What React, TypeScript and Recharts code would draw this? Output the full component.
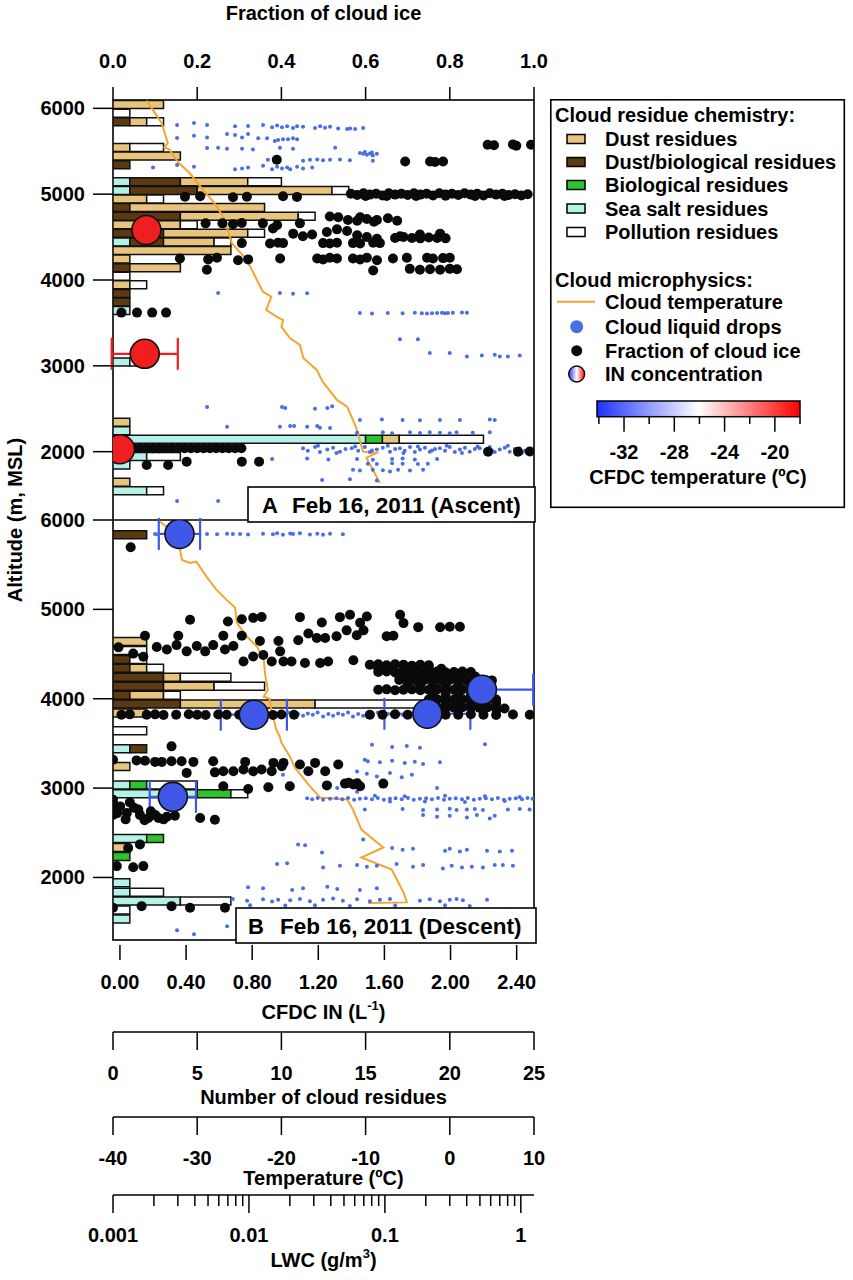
import React from 'react';
import { ComposedChart, Bar, Line, Scatter, XAxis, YAxis, ErrorBar, Legend } from 'recharts';

const FONT = '"Liberation Sans", Arial, Helvetica, sans-serif';
const txt = { fontFamily: FONT, fontWeight: 700, fontSize: 20, fill: '#000' } as any;

// ---------- axis ticks / domains ----------
const fracTicks = [0, 0.2, 0.4, 0.6, 0.8, 1.0];
const altTicks = [2000, 3000, 4000, 5000, 6000];
const cfdcTicks = [0, 0.4, 0.8, 1.2, 1.6, 2.0, 2.4];
const residueTicks = [0, 5, 10, 15, 20, 25];
const tempTicks = [-40, -30, -20, -10, 0, 10];
const lwcTicks = [0.001, 0.002, 0.003, 0.004, 0.005, 0.006, 0.007, 0.008, 0.009, 0.01, 0.02, 0.03, 0.04, 0.05, 0.06, 0.07, 0.08, 0.09, 0.1, 0.2, 0.3, 0.4, 0.5, 0.6, 0.7, 0.8, 0.9, 1];
const lwcMajor = [0.001, 0.01, 0.1, 1];
const cbarMinor = [-34, -30, -26, -22, -18];
const cbarMajor = [-32, -28, -24, -20];

const fracDomain = [0, 1];
const residueDomain = [0, 25];
const tempDomain = [-40, 10];
const lwcDomain = [0.001, 1.25];
const cfdcDomain = [-0.042, 2.505];
const altDomainA = [1204, 6097];
const altDomainB = [1300, 6000];

// ---------- cloud residue bars (counts per 100 m bin) ----------
const altBinsA = [6040, 5940, 5840, 5540, 5440, 5340, 5140, 5040, 4940, 4840, 4740, 4640, 4540, 4440, 4340, 4240, 4140, 4040, 3940, 3840, 3740, 3640, 3040, 2340, 2240, 2140, 1940, 1840, 1640, 1540];
const seaSaltA = [0, 0, 0, 0, 0, 0, 1, 1, 0, 0, 0, 0, 0, 1, 0, 0, 0, 0, 0, 0, 0, 1, 1, 0, 1, 15, 2, 1, 0, 2];
const dustBioA = [0, 0, 1, 0, 0, 1, 3, 4, 0, 1, 4, 0, 3, 2, 0, 0, 1, 0, 0, 1, 1, 0, 0, 0, 0, 0, 0, 0, 0, 0];
const bioA = [0, 0, 0, 0, 0, 0, 0, 0, 0, 0, 0, 0, 0, 0, 0, 0, 0, 0, 0, 0, 0, 0, 0, 0, 0, 1, 0, 0, 0, 0];
const dustA = [3, 0, 1, 1, 4, 0, 4, 8, 2, 8, 7, 4, 5, 3, 7, 1, 3, 0, 1, 0, 0, 0, 0, 1, 0, 1, 0, 0, 1, 0];
const pollutionA = [0, 1, 1, 2, 0, 0, 2, 1, 1, 0, 1, 1, 1, 1, 0, 0, 0, 1, 1, 0, 0, 0, 1, 0, 0, 5, 2, 0, 0, 1];

const altBinsB = [5830, 4635, 4535, 4435, 4335, 4235, 4135, 4035, 3935, 3835, 3635, 3435, 3235, 3030, 2930, 2430, 2330, 2230, 1935, 1830, 1730, 1630, 1530];
const seaSaltB = [0, 0, 0, 0, 0, 0, 0, 0, 0, 0, 0, 1, 0, 1, 5, 2, 0, 0, 1, 1, 4, 0, 1];
const dustBioB = [2, 0, 0, 1, 1, 3, 3, 1, 4, 0, 0, 1, 0, 0, 0, 0, 0, 0, 0, 0, 0, 0, 0];
const bioB = [0, 0, 0, 0, 0, 0, 0, 0, 0, 0, 0, 0, 0, 1, 2, 1, 0, 1, 0, 0, 0, 0, 0];
const dustB = [0, 2, 0, 0, 1, 1, 3, 2, 8, 2, 0, 0, 1, 0, 0, 0, 1, 0, 0, 0, 0, 0, 0];
const pollutionB = [0, 0, 2, 1, 1, 3, 3, 1, 8, 0, 2, 0, 0, 3, 1, 0, 0, 0, 0, 2, 3, 1, 0];

// ---------- cloud temperature [°C, altitude m] ----------
const cloudTempA = [[-36.0, 6090], [-34.2, 5825], [-33.5, 5596], [-33.9, 5545], [-33.3, 5520], [-32.3, 5374], [-30.9, 5246], [-29.5, 5072], [-28.1, 4912], [-26.9, 4737], [-26.1, 4504], [-25.9, 4431], [-24.1, 4233], [-23.5, 4117], [-22.2, 3864], [-21.2, 3806], [-21.8, 3651], [-20.6, 3573], [-19.8, 3534], [-20.0, 3456], [-19.0, 3324], [-17.8, 3243], [-17.4, 3091], [-15.8, 2952], [-15.1, 2815], [-13.4, 2603], [-12.2, 2524], [-11.5, 2369], [-11.1, 2276], [-10.7, 2136], [-10.3, 2000], [-8.7, 1985], [-9.9, 1927], [-8.7, 1709], [-8.3, 1635]];
const cloudTempB = [[-34.4, 5981], [-33.2, 5888], [-32.2, 5740], [-31.8, 5553], [-30.9, 5520], [-30.1, 5534], [-28.9, 5366], [-27.7, 5218], [-26.5, 5106], [-25.5, 5017], [-25.3, 4849], [-24.1, 4696], [-22.9, 4584], [-22.1, 4436], [-21.9, 4249], [-21.6, 4101], [-22.1, 4026], [-21.4, 4000], [-21.2, 3877], [-20.6, 3654], [-20.2, 3579], [-20.0, 3508], [-19.0, 3355], [-18.4, 3229], [-16.6, 3020], [-15.4, 2894], [-12.2, 2872], [-11.5, 2760], [-10.5, 2536], [-7.9, 2335], [-10.5, 2223], [-6.9, 2089], [-5.5, 1832], [-5.1, 1721], [-9.7, 1715]];

// ---------- fraction of cloud ice [fraction, altitude] ----------
const iceFractionA = [
  [0.89, 5575], [0.905, 5570], [0.95, 5580], [0.958, 5565], [0.993, 5575],
  [0.389, 5400], [0.694, 5380], [0.753, 5380], [0.765, 5375], [0.784, 5380],
  [0.171, 4970], [0.207, 4975], [0.285, 4965], [0.318, 4970], [0.404, 4975], [0.437, 4968],
  [0.565, 5005], [0.58, 4990], [0.595, 5010], [0.61, 4995], [0.625, 5005], [0.64, 4985], [0.655, 5010], [0.67, 4995], [0.685, 5005], [0.7, 4990], [0.715, 5010], [0.73, 4995], [0.745, 5005], [0.76, 4985], [0.775, 5010], [0.79, 4995], [0.805, 5005], [0.82, 4990], [0.835, 5010], [0.85, 4995], [0.865, 5005], [0.88, 4985], [0.895, 5010], [0.91, 4995], [0.925, 5005], [0.94, 4990], [0.955, 5000], [0.97, 4985], [0.985, 5000],
  [0.6, 4980], [0.65, 4980], [0.72, 4978], [0.79, 4982], [0.86, 4980], [0.93, 4980],
  [0.515, 4740], [0.535, 4730], [0.558, 4700], [0.587, 4730], [0.603, 4710], [0.627, 4700], [0.653, 4720], [0.675, 4690], [0.58, 4690], [0.62, 4680],
  [0.22, 4660], [0.26, 4660], [0.285, 4650], [0.306, 4665], [0.356, 4660], [0.39, 4640], [0.444, 4660],
  [0.38, 4600], [0.428, 4540], [0.451, 4510], [0.473, 4530], [0.508, 4560], [0.532, 4590], [0.556, 4570], [0.58, 4520], [0.603, 4500], [0.627, 4480], [0.682, 4510], [0.729, 4530], [0.777, 4540],
  [0.67, 4490], [0.69, 4500], [0.71, 4490], [0.73, 4485], [0.75, 4495], [0.77, 4490], [0.79, 4485],
  [0.306, 4430], [0.373, 4425], [0.392, 4435], [0.404, 4430], [0.499, 4430], [0.515, 4425], [0.532, 4435], [0.57, 4430], [0.587, 4425], [0.618, 4435], [0.634, 4430],
  [0.159, 4250], [0.226, 4240], [0.247, 4260], [0.297, 4230], [0.321, 4240], [0.397, 4250], [0.485, 4250], [0.499, 4240], [0.515, 4260], [0.532, 4250], [0.57, 4250], [0.587, 4240], [0.603, 4260], [0.627, 4230], [0.665, 4250], [0.698, 4260], [0.746, 4260], [0.76, 4250], [0.784, 4255], [0.8, 4260],
  [0.223, 4120], [0.618, 4110], [0.705, 4130], [0.729, 4120], [0.753, 4125], [0.777, 4120], [0.8, 4130], [0.817, 4125],
  [0.02, 3620], [0.057, 3620], [0.093, 3620], [0.126, 3620],
  [0.005, 2040], [0.02, 2040], [0.035, 2040], [0.05, 2040], [0.065, 2040], [0.08, 2040], [0.095, 2040], [0.11, 2040], [0.125, 2040], [0.14, 2040], [0.155, 2040], [0.17, 2040], [0.185, 2040], [0.2, 2040], [0.215, 2040], [0.23, 2040], [0.245, 2040], [0.26, 2040], [0.275, 2040], [0.29, 2040], [0.305, 2040],
  [0.08, 1845], [0.131, 1845], [0.175, 1884], [0.306, 1884], [0.347, 1884],
  [0.891, 2000], [0.962, 2000], [0.99, 2002],
];
const iceFractionB = [
  [0.042, 5695],
  [0.183, 4883], [0.273, 4864], [0.306, 4890], [0.333, 4905], [0.353, 4915], [0.444, 4913], [0.496, 4852], [0.539, 4913], [0.563, 4940], [0.587, 4850], [0.603, 4920], [0.682, 4940], [0.69, 4846], [0.725, 4801], [0.777, 4800], [0.8, 4805], [0.824, 4805],
  [0.076, 4704], [0.155, 4704], [0.262, 4704], [0.306, 4704], [0.349, 4646], [0.393, 4646], [0.44, 4655], [0.464, 4730], [0.484, 4680], [0.504, 4680], [0.531, 4700], [0.555, 4765], [0.579, 4710], [0.595, 4765], [0.65, 4700], [0.666, 4705],
  [0.013, 4575], [0.048, 4505], [0.072, 4470], [0.104, 4578], [0.128, 4550], [0.151, 4600], [0.175, 4530], [0.199, 4590], [0.219, 4530], [0.238, 4600], [0.266, 4550], [0.286, 4590], [0.31, 4417], [0.333, 4473], [0.357, 4490], [0.377, 4417], [0.397, 4530], [0.405, 4417], [0.424, 4417], [0.456, 4400], [0.492, 4400], [0.511, 4417], [0.571, 4430],
  [0.61, 4380], [0.63, 4385], [0.65, 4375], [0.67, 4385], [0.69, 4380], [0.71, 4370], [0.73, 4380], [0.75, 4375],
  [0.63, 4340], [0.66, 4345], [0.69, 4335], [0.72, 4340], [0.75, 4345], [0.78, 4335],
  [0.63, 4300], [0.65, 4305], [0.67, 4295], [0.69, 4300], [0.71, 4305], [0.73, 4295], [0.75, 4300], [0.77, 4305], [0.79, 4295], [0.81, 4300], [0.83, 4305], [0.85, 4300],
  [0.68, 4255], [0.71, 4255], [0.74, 4250], [0.77, 4255], [0.8, 4250], [0.83, 4255], [0.86, 4250],
  [0.68, 4210], [0.7, 4215], [0.72, 4205], [0.74, 4210], [0.76, 4215], [0.78, 4205], [0.8, 4210], [0.82, 4215], [0.84, 4205], [0.86, 4210], [0.88, 4210], [0.9, 4205],
  [0.7, 4155], [0.73, 4150], [0.76, 4155], [0.79, 4150], [0.82, 4155], [0.85, 4150], [0.88, 4155],
  [0.63, 4100], [0.65, 4105], [0.67, 4095], [0.69, 4100], [0.71, 4105], [0.73, 4095], [0.75, 4100], [0.77, 4105], [0.79, 4095], [0.81, 4100], [0.83, 4105], [0.85, 4100], [0.87, 4095],
  [0.76, 4045], [0.79, 4045], [0.82, 4040], [0.85, 4045], [0.88, 4040],
  [0.75, 3990], [0.77, 3995], [0.79, 3985], [0.81, 3990], [0.83, 3995], [0.85, 3985], [0.87, 3990], [0.89, 3995], [0.91, 3990],
  [0.76, 3945], [0.79, 3945], [0.82, 3940], [0.85, 3945], [0.88, 3940], [0.91, 3945],
  [0.75, 3900], [0.77, 3905], [0.79, 3895], [0.81, 3900], [0.83, 3905], [0.85, 3895], [0.87, 3900], [0.89, 3905], [0.911, 3877], [0.93, 3890],
  [0.02, 3821], [0.04, 3825], [0.08, 3820], [0.1, 3825], [0.12, 3818], [0.15, 3822], [0.18, 3826], [0.2, 3820], [0.22, 3818], [0.25, 3824], [0.27, 3820], [0.3, 3822], [0.32, 3826], [0.35, 3820], [0.38, 3818], [0.4, 3824], [0.43, 3820], [0.61, 3820], [0.64, 3822], [0.67, 3826], [0.7, 3820], [0.73, 3818], [0.76, 3824], [0.79, 3820], [0.82, 3822], [0.85, 3826], [0.88, 3820], [0.91, 3818], [0.95, 3824], [0.99, 3820],
  [0.139, 3467],
  [0.0, 3318], [0.056, 3310], [0.076, 3305], [0.1, 3293], [0.116, 3293], [0.139, 3300], [0.163, 3300], [0.191, 3293], [0.238, 3300], [0.314, 3293], [0.381, 3282], [0.405, 3282], [0.444, 3263], [0.48, 3282], [0.535, 3263],
  [0.175, 3170], [0.242, 3176], [0.262, 3188], [0.286, 3188], [0.31, 3207], [0.333, 3188], [0.353, 3207], [0.377, 3188], [0.401, 3244], [0.464, 3188], [0.504, 3188],
  [0.262, 3020], [0.321, 2990], [0.369, 3010], [0.42, 3020], [0.508, 3030], [0.551, 3050], [0.571, 3040], [0.587, 3020], [0.642, 3050], [0.56, 3060], [0.58, 3055],
  [0.0, 2870], [0.005, 2800], [0.017, 2795], [0.033, 2720], [0.01, 2720], [0.064, 2700], [0.084, 2665], [0.108, 2665], [0.128, 2680], [0.147, 2690], [0.207, 2665], [0.242, 2645], [0.05, 2780], [0.03, 2650], [0.06, 2760], [0.1, 2700], [0.0, 2700], [0.12, 2650], [0.075, 2640], [0.04, 2840], [0.09, 2740],
  [0.064, 2370], [0.036, 2330],
  [0.009, 2127], [0.048, 2115], [0.072, 2127],
  [0.0, 1661], [0.068, 1679], [0.139, 1679], [0.183, 1661], [0.266, 1661],
];

// ---------- cloud liquid drops [LWC g/m3, altitude] ----------
const liquidDropsA = [
  [0.00296, 5805], [0.00394, 5830], [0.00492, 5805], [0.0079, 5790], [0.00985, 5795], [0.0127, 5805], [0.0148, 5780], [0.0161, 5800], [0.0175, 5780], [0.0191, 5790], [0.0211, 5770], [0.0226, 5790], [0.025, 5785], [0.0306, 5770], [0.0334, 5790], [0.0363, 5775], [0.0395, 5785], [0.0453, 5765], [0.0527, 5760], [0.0555, 5765], [0.0604, 5760], [0.0692, 5770],
  [0.00296, 5655], [0.00394, 5680], [0.00492, 5660], [0.0069, 5700], [0.0079, 5690], [0.0089, 5660], [0.00985, 5700], [0.0117, 5650], [0.0136, 5650], [0.0155, 5620], [0.0164, 5630], [0.0178, 5640], [0.0194, 5640], [0.0211, 5650], [0.0226, 5640],
  [0.00492, 5538], [0.00593, 5540], [0.0069, 5530], [0.0089, 5530], [0.0107, 5520], [0.0169, 5540], [0.0211, 5530], [0.0431, 5540],
  [0.0655, 5480], [0.0692, 5470], [0.0712, 5490], [0.0737, 5460], [0.0776, 5475], [0.0803, 5485], [0.0815, 5450], [0.0873, 5470],
  [0.0138, 5400], [0.0161, 5410], [0.025, 5390], [0.0281, 5400], [0.0318, 5405], [0.0351, 5395], [0.0395, 5400], [0.0467, 5405], [0.0553, 5395], [0.0815, 5390],
  [0.00197, 5310], [0.00296, 5340], [0.00394, 5320], [0.0079, 5290], [0.0089, 5300], [0.00985, 5310], [0.0127, 5330], [0.0148, 5290], [0.0161, 5320], [0.0175, 5300], [0.0191, 5310], [0.0201, 5290], [0.0226, 5320], [0.025, 5300], [0.0292, 5310],
  [0.0553, 5010], [0.0624, 5010],
  [0.00593, 3850], [0.0169, 3850], [0.0211, 3840], [0.0268, 3845],
  [0.0655, 3615], [0.0803, 3610], [0.105, 3615], [0.135, 3612], [0.166, 3618], [0.187, 3612], [0.204, 3610], [0.222, 3612], [0.242, 3615], [0.263, 3618], [0.277, 3612], [0.291, 3615], [0.316, 3618], [0.369, 3620], [0.401, 3618],
  [0.129, 3310], [0.175, 3310],
  [0.214, 3150], [0.3, 3150], [0.401, 3110], [0.517, 3120], [0.643, 3130], [0.7, 3110], [0.803, 3110], [0.982, 3120],
  [0.00492, 2520], [0.0175, 2520], [0.0185, 2510], [0.0306, 2500], [0.0377, 2510], [0.0409, 2530],
  [0.0655, 2370], [0.0951, 2375], [0.135, 2370], [0.181, 2365], [0.254, 2370], [0.356, 2368], [0.591, 2375], [0.643, 2370],
  [0.0069, 2290], [0.0169, 2290], [0.0201, 2300], [0.0215, 2300], [0.0268, 2290], [0.0318, 2300], [0.0333, 2280], [0.0395, 2275],
  [0.0624, 2220], [0.0966, 2225], [0.113, 2215], [0.153, 2225], [0.181, 2218], [0.214, 2225], [0.254, 2220], [0.3, 2215], [0.337, 2225], [0.443, 2220], [0.591, 2225],
  [0.025, 2040], [0.0271, 2010], [0.0306, 2055], [0.0333, 1995], [0.0377, 2025], [0.0416, 2045], [0.0467, 2000], [0.0513, 2030], [0.057, 2040], [0.0636, 2010], [0.0712, 2055], [0.0776, 1995], [0.0873, 2025], [0.0966, 2045], [0.109, 2000], [0.119, 2030], [0.129, 2040], [0.14, 2010], [0.153, 2055], [0.166, 1995], [0.181, 2025], [0.197, 2045], [0.214, 2000], [0.234, 2030], [0.254, 2040], [0.277, 2010], [0.3, 2055], [0.327, 1995], [0.356, 2025], [0.388, 2045], [0.421, 2000], [0.459, 2030], [0.499, 2040], [0.545, 2010], [0.591, 2055], [0.643, 1995], [0.7, 2025], [0.762, 2045], [0.829, 2000], [0.903, 2030], [0.982, 2040], [1.07, 2010],
  [0.0322, 2070], [0.044, 1985], [0.0604, 2060], [0.0803, 2015], [0.105, 2070], [0.137, 1985], [0.175, 2060], [0.222, 2015], [0.285, 2070], [0.369, 1985], [0.481, 2060], [0.613, 2015], [0.803, 2070], [1.02, 1985],
  [0.0148, 1915], [0.0268, 1920], [0.0384, 1910], [0.0624, 1915], [0.0815, 1905], [0.113, 1915], [0.135, 1920], [0.166, 1910], [0.242, 1915],
  [0.0749, 1860], [0.0873, 1855], [0.113, 1865], [0.135, 1860], [0.175, 1855], [0.207, 1860],
  [0.0583, 1790], [0.0655, 1780], [0.0815, 1790], [0.0966, 1785], [0.109, 1770], [0.125, 1790], [0.153, 1780], [0.191, 1790],
  [0.0345, 1670], [0.0553, 1680], [0.0873, 1665],
  [0.00296, 1425], [0.00593, 1425],
];
const liquidDropsB = [
  [0.00204, 5844], [0.00214, 5838], [0.00492, 5844], [0.00583, 5840], [0.0069, 5846], [0.00762, 5842], [0.0086, 5844], [0.00985, 5838], [0.0127, 5846], [0.015, 5840], [0.0161, 5852], [0.0178, 5836], [0.0201, 5850], [0.0211, 5842], [0.0237, 5852], [0.0281, 5838], [0.0318, 5846], [0.0351, 5836], [0.0395, 5846], [0.0491, 5840],
  [0.00296, 3810], [0.00468, 3835], [0.0178, 3820], [0.0194, 3845], [0.0211, 3800], [0.023, 3830], [0.025, 3810], [0.0271, 3835], [0.0295, 3820], [0.032, 3845], [0.0351, 3800], [0.0384, 3830], [0.0416, 3810], [0.0453, 3835], [0.0491, 3820], [0.0536, 3845], [0.0583, 3800], [0.0636, 3830], [0.0692, 3810], [0.0749, 3835], [0.0815, 3820], [0.0887, 3845], [0.0966, 3800], [0.105, 3830], [0.114, 3810], [0.125, 3835], [0.135, 3820], [0.148, 3845],
  [0.0803, 3486], [0.113, 3460], [0.145, 3470], [0.181, 3450], [0.545, 3490],
  [0.0712, 3318], [0.0749, 3300], [0.0919, 3290], [0.113, 3305], [0.14, 3280], [0.166, 3295], [0.191, 3270], [0.254, 3290],
  [0.0178, 3150], [0.0624, 3185], [0.0737, 3160], [0.0873, 3130], [0.109, 3170], [0.133, 3120], [0.158, 3150],
  [0.0395, 3040], [0.0446, 3000], [0.0624, 2960], [0.242, 3000],
  [0.0268, 2885], [0.0292, 2875], [0.032, 2890], [0.0351, 2870], [0.0395, 2880], [0.044, 2885], [0.0486, 2875], [0.0536, 2890], [0.0594, 2870], [0.0655, 2880], [0.0724, 2885], [0.0803, 2875], [0.0887, 2890], [0.0983, 2870], [0.109, 2880], [0.12, 2885], [0.133, 2875], [0.148, 2890], [0.163, 2870], [0.181, 2880], [0.201, 2885], [0.222, 2875], [0.246, 2890], [0.272, 2870], [0.3, 2880], [0.332, 2885], [0.369, 2875], [0.407, 2890], [0.451, 2870], [0.499, 2880], [0.553, 2885], [0.613, 2875], [0.678, 2890], [0.751, 2870], [0.829, 2880], [0.918, 2885], [1.02, 2875], [1.12, 2890], [1.22, 2880],
  [0.14, 2910], [0.197, 2850], [0.277, 2915], [0.388, 2845], [0.545, 2910], [0.762, 2855], [0.982, 2900], [0.109, 2850], [0.0845, 2915],
  [0.0712, 2760], [0.135, 2765], [0.191, 2755], [0.242, 2760], [0.3, 2770], [0.337, 2755], [0.401, 2760], [0.459, 2765], [0.526, 2755], [0.803, 2760], [0.982, 2765], [1.16, 2760],
  [0.191, 2700], [0.242, 2680], [0.3, 2690], [0.401, 2670], [0.475, 2700], [0.591, 2660], [0.643, 2690],
  [0.0692, 2425], [0.023, 2370], [0.0259, 2360],
  [0.113, 2330], [0.135, 2310], [0.161, 2320], [0.277, 2300], [0.3, 2320], [0.356, 2290], [0.401, 2310], [0.564, 2300], [0.7, 2290], [0.861, 2300], [0.0345, 2280],
  [0.0161, 2150], [0.0191, 2160], [0.0351, 2110], [0.0467, 2130], [0.0624, 2140], [0.0737, 2120], [0.0873, 2130], [0.122, 2150], [0.161, 2120], [0.191, 2140], [0.267, 2100], [0.31, 2130], [0.369, 2110], [0.436, 2120], [0.526, 2110], [0.643, 2140], [0.737, 2140], [0.875, 2130],
  [0.00985, 1890], [0.0127, 1880], [0.0208, 1860], [0.025, 1880], [0.0377, 1895], [0.0446, 1870], [0.0655, 1860], [0.0873, 1880],
  [0.00762, 1760], [0.0097, 1740], [0.0127, 1755], [0.0148, 1730], [0.0164, 1750], [0.0201, 1745], [0.0237, 1760], [0.0281, 1735], [0.0351, 1750], [0.0416, 1765], [0.0491, 1740], [0.0624, 1755], [0.0776, 1735], [0.0919, 1750], [0.109, 1760], [0.181, 1740], [0.214, 1755], [0.254, 1735], [0.3, 1750], [0.337, 1760], [0.375, 1745], [0.564, 1750],
  [0.0102, 1690], [0.0185, 1685], [0.0306, 1690], [0.0553, 1680], [0.119, 1685], [0.277, 1690], [0.421, 1680],
  [0.0069, 1453], [0.00296, 1410], [0.00394, 1363],
];

// ---------- IN concentration [CFDC IN L-1, altitude, error] ----------
const inConcA = [[0.16, 4582, 0], [0.15, 3140, 0.2], [0.0, 2028, 0]];
const inConcB = [[0.36, 5844, 0.125], [2.19, 4101, 0.31], [0.81, 3821, 0.2], [1.86, 3832, 0.26], [0.32, 2902, 0.14]];

// ---------- colours ----------
const C = {
  dust: '#e8c47c', dustBio: '#5b3a12', bio: '#2bc42b', seaSalt: '#b4f1e7', pollution: '#ffffff',
  temp: '#f3a532', drops: '#4a6fe3', ice: '#0a0a0a', inRed: '#ef1f1f', inBlue: '#3f57e6',
};

const buildBars = (alts, ss, db, bi, du, po) => alts.map((alt, i) => ({ alt, seaSalt: ss[i], dustBio: db[i], bio: bi[i], dust: du[i], pollution: po[i] }));
const barsA = buildBars(altBinsA, seaSaltA, dustBioA, bioA, dustA, pollutionA);
const barsB = buildBars(altBinsB, seaSaltB, dustBioB, bioB, dustB, pollutionB);
const toTemp = (a) => a.map(([temp, alt]) => ({ temp, alt }));
const toIce = (a) => a.map(([frac, alt]) => ({ frac, alt }));
const toDrops = (a) => a.map(([lwc, alt]) => ({ lwc, alt }));
const toIN = (a) => a.map(([cfdc, alt, err]) => ({ cfdc, alt, err }));

// ---------- tick renderers ----------
const LeftTick = (p: any) => (
  <g>
    <line x1={p.x - 20} x2={p.x} y1={p.y} y2={p.y} stroke="#000" strokeWidth={1.5} />
    <text x={p.x - 28} y={p.y + 7} textAnchor="end" {...txt}>{p.payload.value}</text>
  </g>
);
const TopTick = (p: any) => (
  <g>
    <line x1={p.x} x2={p.x} y1={p.y - 13} y2={p.y} stroke="#000" strokeWidth={1.5} />
    <text x={p.x} y={p.y - 32} textAnchor="middle" {...txt}>{Number(p.payload.value).toFixed(1)}</text>
  </g>
);
const makeBottomTick = (t0: number, t1: number, dy: number, fmt: (v: number) => string, major?: number[], minorLen?: number) => (p: any) => {
  const v = p.payload.value;
  const isMajor = !major || major.some((m) => Math.abs(m - v) < 1e-9);
  return (
    <g>
      <line x1={p.x} x2={p.x} y1={p.y + t0} y2={p.y + (isMajor ? t1 : (minorLen as number))} stroke="#000" strokeWidth={1.5} />
      {isMajor && <text x={p.x} y={p.y + dy} textAnchor="middle" {...txt}>{fmt(v)}</text>}
    </g>
  );
};
const CfdcTick = makeBottomTick(5, 20, 49, (v) => v.toFixed(2));
const ResTick = makeBottomTick(0, 18, 48, (v) => String(v));
const TempTick = makeBottomTick(0, 18, 48, (v) => String(v));
const LwcTick = makeBottomTick(0, 18, 47, (v) => String(v), lwcMajor, 11);

const xTitle = (content: React.ReactNode, dy: number) => (props: any) => {
  const vb = props.viewBox || { x: 113, y: 0, width: 421 };
  return (
    <text x={vb.x + vb.width / 2} y={vb.y + dy} textAnchor="middle" {...txt}>{content}</text>
  );
};
const yTitle = (props: any) => {
  const vb = props.viewBox || { x: 53, y: 520 };
  const x = vb.x - 31;
  const y = vb.y;
  return (
    <text x={x} y={y} transform={`rotate(-90, ${x}, ${y})`} textAnchor="middle" {...txt}>Altitude (m, MSL)</text>
  );
};

const blueDot = (p: any) => <circle cx={p.cx} cy={p.cy} r={2} fill={C.drops} />;
const blackDot = (p: any) => <circle cx={p.cx} cy={p.cy} r={5} fill={C.ice} />;
const inCircle = (fill: string) => (p: any) => <circle cx={p.cx} cy={p.cy} r={14.5} fill={fill} stroke="#111" strokeWidth={1.6} />;

// ---------- legend ----------
const residueItems = [
  { label: 'Dust residues', color: C.dust },
  { label: 'Dust/biological residues', color: C.dustBio },
  { label: 'Biological residues', color: C.bio },
  { label: 'Sea salt residues', color: C.seaSalt },
  { label: 'Pollution residues', color: C.pollution },
];
const residueRowY = [40, 63, 86, 109.5, 133];
const cbarX = (t: number) => 47 + ((t + 34.15) / 16.15) * 203;

const LegendBox = () => (
  <svg width={296} height={410} style={{ display: 'block' }}>
    <defs>
      <linearGradient id="cbarGrad" x1="0" x2="1" y1="0" y2="0">
        <stop offset="0" stopColor="#1e32ff" />
        <stop offset="0.5" stopColor="#ffffff" />
        <stop offset="1" stopColor="#ff0000" />
      </linearGradient>
    </defs>
    <rect x={0.8} y={0.8} width={293.5} height={407.5} fill="#fff" stroke="#000" strokeWidth={1.6} />
    <text x={5} y={23} {...txt}>Cloud residue chemistry:</text>
    {residueItems.map((it, i) => (
      <g key={it.label}>
        <rect x={17} y={residueRowY[i] - 4.5} width={18} height={9} fill={it.color} stroke="#000" strokeWidth={1.5} />
        <text x={55} y={residueRowY[i] + 7} {...txt}>{it.label}</text>
      </g>
    ))}
    <text x={5} y={187.5} {...txt}>Cloud microphysics:</text>
    <line x1={7} x2={45} y1={202.7} y2={202.7} stroke={C.temp} strokeWidth={2} />
    <text x={55} y={209.7} {...txt}>Cloud temperature</text>
    <circle cx={26.7} cy={227.7} r={6.5} fill={C.drops} />
    <text x={55} y={234.7} {...txt}>Cloud liquid drops</text>
    <circle cx={26.7} cy={251.7} r={5.5} fill={C.ice} />
    <text x={55} y={258.7} {...txt}>Fraction of cloud ice</text>
    <circle cx={26.7} cy={275} r={8} fill="url(#cbarGrad)" stroke="#000" strokeWidth={1.3} />
    <text x={55} y={282} {...txt}>IN concentration</text>
    <rect x={47} y={302} width={203} height={15.7} fill="url(#cbarGrad)" stroke="#000" strokeWidth={1.5} />
    {cbarMinor.map((t) => (
      <line key={`mi${t}`} x1={cbarX(t)} x2={cbarX(t)} y1={317.7} y2={325} stroke="#000" strokeWidth={1.5} />
    ))}
    {cbarMajor.map((t) => (
      <g key={`ma${t}`}>
        <line x1={cbarX(t)} x2={cbarX(t)} y1={317.7} y2={332.7} stroke="#000" strokeWidth={1.5} />
        <text x={cbarX(t)} y={360} textAnchor="middle" {...txt}>{t}</text>
      </g>
    ))}
    <text x={148} y={385} textAnchor="middle" {...txt}>CFDC temperature (ºC)</text>
  </svg>
);

// Axis ids are ordered alphabetically by Recharts when stacking: a_ < b_ < c_ < d_ < e_
const residueBars = () => [
  <Bar key="ss" dataKey="seaSalt" stackId="r" xAxisId="b_res" yAxisId="b_bars" fill={C.seaSalt} stroke="#111" strokeWidth={1.5} barSize={8} isAnimationActive={false} />,
  <Bar key="db" dataKey="dustBio" stackId="r" xAxisId="b_res" yAxisId="b_bars" fill={C.dustBio} stroke="#111" strokeWidth={1.5} barSize={8} isAnimationActive={false} />,
  <Bar key="bi" dataKey="bio" stackId="r" xAxisId="b_res" yAxisId="b_bars" fill={C.bio} stroke="#111" strokeWidth={1.5} barSize={8} isAnimationActive={false} />,
  <Bar key="du" dataKey="dust" stackId="r" xAxisId="b_res" yAxisId="b_bars" fill={C.dust} stroke="#111" strokeWidth={1.5} barSize={8} isAnimationActive={false} />,
  <Bar key="po" dataKey="pollution" stackId="r" xAxisId="b_res" yAxisId="b_bars" fill={C.pollution} stroke="#111" strokeWidth={1.5} barSize={8} isAnimationActive={false} />,
];

export default function App() {
  return (
    <div style={{ position: 'absolute', left: 0, top: 0, width: 853, height: 1280, background: '#fff', overflow: 'hidden' }}>
      {/* plot frame */}
      <svg width={853} height={1280} style={{ position: 'absolute', left: 0, top: 0 }}>
        <rect x={113} y={100} width={421} height={840} fill="none" stroke="#000" strokeWidth={1.6} />
        <line x1={113} x2={534} y1={520} y2={520} stroke="#000" strokeWidth={1.6} />
      </svg>

      {/* Panel A */}
      <div style={{ position: 'absolute', left: 0, top: 0 }}>
        <ComposedChart width={853} height={520} layout="vertical" data={barsA} margin={{ top: 40, right: 319, bottom: 0, left: 53 }}>
          <XAxis xAxisId="e_frac" type="number" orientation="top" dataKey="frac" domain={fracDomain} ticks={fracTicks} interval={0} allowDataOverflow height={60} tickSize={0} tickMargin={0} tickLine={false} axisLine={false} tick={TopTick} label={xTitle('Fraction of cloud ice', -20)} />
          <XAxis xAxisId="a_cfdc" type="number" dataKey="cfdc" domain={cfdcDomain} allowDataOverflow hide height={0} />
          <XAxis xAxisId="b_res" type="number" domain={residueDomain} allowDataOverflow hide height={0} />
          <XAxis xAxisId="c_temp" type="number" dataKey="temp" domain={tempDomain} allowDataOverflow hide height={0} />
          <XAxis xAxisId="d_lwc" type="number" dataKey="lwc" scale="log" domain={lwcDomain} allowDataOverflow hide height={0} />
          <YAxis yAxisId="a_pts" type="number" dataKey="alt" domain={altDomainA} reversed ticks={altTicks} interval={0} allowDataOverflow width={60} tickSize={0} tickMargin={0} tickLine={false} axisLine={false} tick={LeftTick} />
          <YAxis yAxisId="b_bars" type="number" dataKey="alt" domain={altDomainA} reversed allowDataOverflow hide width={0} />
          <Scatter data={toDrops(liquidDropsA)} xAxisId="d_lwc" yAxisId="a_pts" shape={blueDot} isAnimationActive={false} />
          <Scatter data={toIce(iceFractionA)} xAxisId="e_frac" yAxisId="a_pts" shape={blackDot} isAnimationActive={false} />
          <Line data={toTemp(cloudTempA)} dataKey="temp" xAxisId="c_temp" yAxisId="a_pts" stroke={C.temp} strokeWidth={2} dot={false} isAnimationActive={false} />
          {residueBars()}
          <Scatter data={toIN(inConcA)} xAxisId="a_cfdc" yAxisId="a_pts" shape={inCircle(C.inRed)} isAnimationActive={false}>
            <ErrorBar dataKey="err" direction="x" width={16} stroke={C.inRed} strokeWidth={2.2} />
          </Scatter>
          <Legend layout="horizontal" align="center" verticalAlign="middle" content={() => <LegendBox />} wrapperStyle={{ left: 550, top: 99, width: 296, height: 410 }} />
        </ComposedChart>
      </div>

      {/* Panel B */}
      <div style={{ position: 'absolute', left: 0, top: 0 }}>
        <ComposedChart width={853} height={1280} layout="vertical" data={barsB} margin={{ top: 520, right: 319, bottom: 0, left: 53 }}>
          <XAxis xAxisId="a_cfdc" type="number" dataKey="cfdc" domain={cfdcDomain} ticks={cfdcTicks} interval={0} allowDataOverflow height={92} tickSize={0} tickMargin={0} tickLine={false} axisLine={false} tick={CfdcTick}
            label={xTitle(<>CFDC IN (L<tspan dy={-9} fontSize={13}>-1</tspan><tspan dy={9}>)</tspan></>, 79)} />
          <XAxis xAxisId="b_res" type="number" domain={residueDomain} ticks={residueTicks} interval={0} allowDataOverflow height={85} tickSize={0} tickMargin={0} tickLine={false} axisLine={{ stroke: '#000', strokeWidth: 1.5 }} tick={ResTick} label={xTitle('Number of cloud residues', 72)} />
          <XAxis xAxisId="c_temp" type="number" dataKey="temp" domain={tempDomain} ticks={tempTicks} interval={0} allowDataOverflow height={78} tickSize={0} tickMargin={0} tickLine={false} axisLine={{ stroke: '#000', strokeWidth: 1.5 }} tick={TempTick} label={xTitle('Temperature (ºC)', 68)} />
          <XAxis xAxisId="d_lwc" type="number" dataKey="lwc" scale="log" domain={lwcDomain} ticks={lwcTicks} interval={0} allowDataOverflow height={85} tickSize={0} tickMargin={0} tickLine={false} axisLine={{ stroke: '#000', strokeWidth: 1.5 }} tick={LwcTick}
            label={xTitle(<>LWC (g/m<tspan dy={-9} fontSize={13}>3</tspan><tspan dy={9}>)</tspan></>, 72)} />
          <XAxis xAxisId="e_frac" type="number" dataKey="frac" domain={fracDomain} allowDataOverflow hide height={0} />
          <YAxis yAxisId="a_pts" type="number" dataKey="alt" domain={altDomainB} reversed ticks={altTicks} interval={0} allowDataOverflow width={60} tickSize={0} tickMargin={0} tickLine={false} axisLine={false} tick={LeftTick} label={yTitle} />
          <YAxis yAxisId="b_bars" type="number" dataKey="alt" domain={altDomainB} reversed allowDataOverflow hide width={0} />
          <Scatter data={toDrops(liquidDropsB)} xAxisId="d_lwc" yAxisId="a_pts" shape={blueDot} isAnimationActive={false} />
          <Scatter data={toIce(iceFractionB)} xAxisId="e_frac" yAxisId="a_pts" shape={blackDot} isAnimationActive={false} />
          <Line data={toTemp(cloudTempB)} dataKey="temp" xAxisId="c_temp" yAxisId="a_pts" stroke={C.temp} strokeWidth={2} dot={false} isAnimationActive={false} />
          {residueBars()}
          <Scatter data={toIN(inConcB)} xAxisId="a_cfdc" yAxisId="a_pts" shape={inCircle(C.inBlue)} isAnimationActive={false}>
            <ErrorBar dataKey="err" direction="x" width={16} stroke={C.inBlue} strokeWidth={2.2} />
          </Scatter>
        </ComposedChart>
      </div>

      {/* panel labels */}
      <svg width={853} height={1280} style={{ position: 'absolute', left: 0, top: 0, pointerEvents: 'none' }}>
        <rect x={248} y={487} width={287} height={35} fill="#fff" stroke="#000" strokeWidth={1.6} />
        <text x={262} y={513} {...txt} fontSize={22}>A</text>
        <text x={292} y={513} {...txt} fontSize={22.5}>Feb 16, 2011 (Ascent)</text>
        <rect x={236} y={908} width={300} height={35} fill="#fff" stroke="#000" strokeWidth={1.6} />
        <text x={248} y={934} {...txt} fontSize={22}>B</text>
        <text x={280} y={934} {...txt} fontSize={22.5}>Feb 16, 2011 (Descent)</text>
      </svg>
    </div>
  );
}
